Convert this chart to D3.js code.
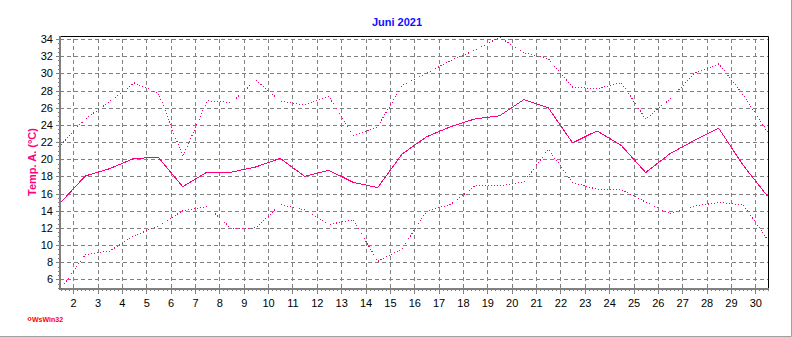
<!DOCTYPE html>
<html>
<head>
<meta charset="utf-8">
<script src="https://cdn.jsdelivr.net/npm/d3@7"></script>
<style>
  body { margin: 0; background: #fff; }
  svg { display: block; font-family: Arial, 'Liberation Sans', sans-serif; }
</style>
</head>
<body>
<svg id="chart" width="792" height="337"></svg>
<script>
// June 2021, one value per day (plotted in the middle of the day)
const days = [1, 2, 3, 4, 5, 6, 7, 8, 9, 10, 11, 12, 13, 14, 15,
  16, 17, 18, 19, 20, 21, 22, 23, 24, 25, 26, 27, 28, 29, 30];
const tMax = [21.7, 24.7, 26.7, 28.9, 27.7, 20.3, 26.8, 26.6, 29.2, 26.8,
  26.3, 27.3, 22.7, 23.8, 28.6, 30.0, 31.5, 32.7, 34.2, 32.4,
  31.7, 28.4, 28.2, 28.9, 24.7, 27.0, 30.0, 31.1, 27.5, 23.2];
const tMean = [15.0, 18.05, 18.9, 20.1, 20.2, 16.8, 18.5, 18.5, 19.1, 20.1,
  18.0, 18.7, 17.3, 16.7, 20.6, 22.6, 23.8, 24.7, 25.05, 26.95,
  26.0, 21.9, 23.3, 21.6, 18.45, 20.65, 22.2, 23.6, 19.3, 15.7];
const tMin = [4.9, 8.9, 9.3, 11.1, 12.2, 14.0, 14.5, 11.9, 12.0, 14.7,
  14.1, 12.4, 12.95, 8.1, 9.55, 13.95, 14.75, 16.9, 16.9, 17.35,
  21.15, 17.3, 16.5, 16.45, 15.0, 13.65, 14.55, 14.95, 14.7, 10.65];
const xTicks = d3.range(2, 31);
const yTicks = [6, 8, 10, 12, 14, 16, 18, 20, 22, 24, 26, 28, 30, 32, 34];

const lineColor = '#ff0080';
const plot = { left: 60, right: 768, top: 36, bottom: 288 };

const svg = d3.select('#chart');

const x = d3.scaleLinear().domain([1.5, 30.5]).range([61, 767.5]);
const y = d3.scaleLinear().domain([5, 34.35]).range([plot.bottom, plot.top]);

// grid
svg.append('g')
  .attr('transform', `translate(0,${plot.bottom})`)
  .call(d3.axisBottom(x).tickValues(xTicks).tickSize(-(plot.bottom - plot.top)).tickFormat(''))
  .call(g => g.select('.domain').remove())
  .selectAll('line')
  .attr('stroke', '#808080')
  .attr('stroke-dasharray', '4,3')
  .attr('shape-rendering', 'crispEdges');

svg.append('g')
  .attr('transform', `translate(${plot.left},0)`)
  .call(d3.axisLeft(y).tickValues(yTicks).tickSize(-(plot.right - plot.left)).tickFormat(''))
  .call(g => g.select('.domain').remove())
  .selectAll('line')
  .attr('stroke', '#808080')
  .attr('stroke-dasharray', '4,3')
  .attr('shape-rendering', 'crispEdges');

// frame: top and right black
svg.append('path')
  .attr('d', `M${plot.left},${plot.top + 0.5}H${plot.right + 0.5}V${plot.bottom}`)
  .attr('fill', 'none')
  .attr('stroke', '#000')
  .attr('stroke-width', 1);

// minor ticks
const xMinor = d3.range(1.5 * 6, 30.5 * 6 + 1).map(d => d / 6);
svg.append('g')
  .attr('transform', `translate(0,${plot.bottom})`)
  .call(d3.axisBottom(x).tickValues(xMinor).tickSize(3).tickFormat(''))
  .call(g => g.select('.domain').remove())
  .selectAll('line')
  .attr('stroke', '#808080')
  .attr('shape-rendering', 'crispEdges');

const yMinor = d3.range(5, 34.5, 0.5);
svg.append('g')
  .attr('transform', `translate(${plot.left},0)`)
  .call(d3.axisLeft(y).tickValues(yMinor).tickSize(2).tickFormat(''))
  .call(g => g.select('.domain').remove())
  .selectAll('line')
  .attr('stroke', '#808080')
  .attr('shape-rendering', 'crispEdges');

// major ticks + labels
const xAxis = svg.append('g')
  .attr('transform', `translate(0,${plot.bottom})`)
  .call(d3.axisBottom(x).tickValues(xTicks).tickSize(6).tickPadding(5));
xAxis.select('.domain').remove();
xAxis.selectAll('line').attr('stroke', '#808080').attr('shape-rendering', 'crispEdges');
xAxis.selectAll('text')
  .attr('fill', '#000')
  .attr('font-size', 11)
  .attr('font-family', 'Arial, Liberation Sans, sans-serif');

const yAxis = svg.append('g')
  .attr('transform', `translate(${plot.left},0)`)
  .call(d3.axisLeft(y).tickValues(yTicks).tickSize(4).tickPadding(3));
yAxis.select('.domain').remove();
yAxis.selectAll('line').attr('stroke', '#808080').attr('shape-rendering', 'crispEdges');
yAxis.selectAll('text')
  .attr('fill', '#000')
  .attr('font-size', 11)
  .attr('font-family', 'Arial, Liberation Sans, sans-serif');

// thick grey axes left and bottom
svg.append('path')
  .attr('d', `M${plot.left},${plot.top}V${plot.bottom + 1}H${plot.right + 1}`)
  .attr('fill', 'none')
  .attr('stroke', '#808080')
  .attr('stroke-width', 2);

// series
const line = values => d3.line()
  .x((d, i) => x(days[i] + 0.5))
  .y(d => y(d))(values);

svg.append('path')
  .attr('d', line(tMax))
  .attr('fill', 'none')
  .attr('stroke', lineColor)
  .attr('stroke-width', 1)
  .attr('stroke-dasharray', '1,2')
  .attr('shape-rendering', 'crispEdges');

svg.append('path')
  .attr('d', line(tMin))
  .attr('fill', 'none')
  .attr('stroke', lineColor)
  .attr('stroke-width', 1)
  .attr('stroke-dasharray', '1,2')
  .attr('shape-rendering', 'crispEdges');

svg.append('path')
  .attr('d', line(tMean))
  .attr('fill', 'none')
  .attr('stroke', lineColor)
  .attr('stroke-width', 1)
  .attr('shape-rendering', 'crispEdges');

// title
svg.append('text')
  .attr('x', 397)
  .attr('y', 26)
  .attr('text-anchor', 'middle')
  .attr('font-size', 11)
  .attr('font-weight', 'bold')
  .attr('fill', '#1010ff')
  .text('Juni 2021');

// y label
svg.append('text')
  .attr('transform', 'translate(36,162) rotate(-90)')
  .attr('text-anchor', 'middle')
  .attr('font-size', 11)
  .attr('font-weight', 'bold')
  .attr('fill', lineColor)
  .text('Temp. A. (°C)');

// logo
svg.append('circle')
  .attr('cx', 29.5)
  .attr('cy', 319)
  .attr('r', 1.5)
  .attr('fill', 'none')
  .attr('stroke', '#ff0000');
svg.append('text')
  .attr('x', 32)
  .attr('y', 322)
  .attr('font-size', 7)
  .attr('font-weight', 'bold')
  .attr('fill', '#ff0000')
  .text('WsWin32');

// outer panel edge
svg.append('path')
  .attr('d', 'M0,336.5H791.5V0')
  .attr('fill', 'none')
  .attr('stroke', '#a0a0a0')
  .attr('stroke-width', 1);
</script>
</body>
</html>
